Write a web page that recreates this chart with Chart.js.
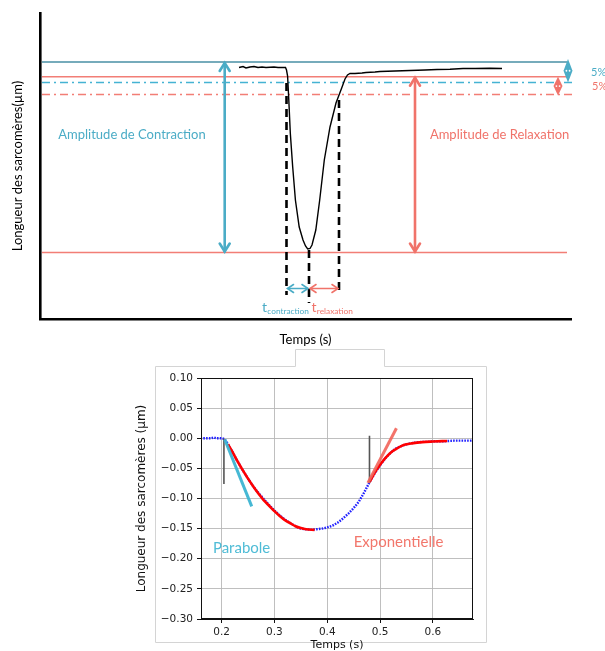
<!DOCTYPE html>
<html><head><meta charset="utf-8">
<script src="https://cdn.jsdelivr.net/npm/chart.js@4.4.1/dist/chart.umd.min.js"></script>
<style>
html,body{margin:0;padding:0;background:#fff;width:605px;height:651px;overflow:hidden;}
#top{position:absolute;left:0;top:0;width:605px;height:348px;}
#bot{position:absolute;left:0;top:345px;width:605px;height:306px;}
</style></head><body>
<div id="top"><canvas id="c1" width="605" height="348"></canvas></div>
<div id="bot"><canvas id="c2" width="605" height="306"></canvas></div>
<script>
// ===== Top schematic (arbitrary units: time a.u., length a.u.) =====
const traceTime   = [199,203,206,210,214,218,222,226,230,234,238,244,245.5,246.5,247.6,248.8,250.3,252.7,255.4,259.2,263,265.5,267.7,270,272,275.8,279.7,284.3,290,296,301.7,305,307.5,310,315,322,326,335,340,355,370,385,397,410,423,435,450,462];
const traceLength = [251.5,252.5,251,252,252.5,251.5,252,251.5,251.8,252,251.5,251.5,251.5,249,243,219,186,152,119,92,79,73,70,70.5,74,89,119,159,192,216,231,240,244,245.5,245.5,246,246.5,247,247.5,248,248.5,249,249.5,249.7,250.5,250.5,250.8,250.5];
const levelBaseline   = 257;    // teal solid
const levelRelaxed    = 242.3;  // salmon solid
const levelContr5     = 236.5;  // teal dash-dot (5%)
const levelRelax5     = 224.5;  // salmon dash-dot (5%)
const levelMinimum    = 66.5;   // salmon solid (bottom)
const levelStart = 2, levelEnd = 527, dashLevelEnd = 535;
const tStart = 246.5, tPeak = 269, tEnd = 299;
const tStartTop = 236, tPeakTop = 69, tEndTop = 219, tMarkerBottom = 24, tPeakBottom = 16;
const timeArrowLevel = 30.5;
const ampContrTime = 184.7, ampRelaxTime = 375;
const pctContrTime = 528, pctRelaxTime = 518;

// ===== Bottom plot (s, µm) =====
const timeS    = [0.160,0.170,0.180,0.185,0.190,0.200,0.205,0.210,0.220,0.230,0.240,0.250,0.260,0.270,0.280,0.290,0.300,0.310,0.320,0.330,0.340,0.350,0.360,0.370,0.380,0.390,0.400,0.410,0.420,0.430,0.440,0.450,0.460,0.470,0.480,0.490,0.500,0.510,0.520,0.530,0.540,0.550,0.560,0.570,0.580,0.590,0.600,0.620,0.640,0.660,0.676];
const lengthUm = [0.000,0.000,0.000,0.0015,0.000,0.000,-0.001,-0.007,-0.022,-0.038,-0.053,-0.067,-0.080,-0.091,-0.101,-0.111,-0.120,-0.128,-0.135,-0.141,-0.146,-0.150,-0.151,-0.152,-0.151,-0.150,-0.148,-0.145,-0.140,-0.133,-0.125,-0.116,-0.105,-0.090,-0.073,-0.058,-0.045,-0.033,-0.024,-0.017,-0.013,-0.010,-0.008,-0.007,-0.006,-0.006,-0.005,-0.005,-0.004,-0.004,-0.004];
const fitContrT = [0.212,0.220,0.230,0.240,0.250,0.260,0.270,0.280,0.290,0.300,0.310,0.320,0.330,0.340,0.350,0.360,0.376];
const fitContrL = [-0.010,-0.022,-0.038,-0.053,-0.067,-0.080,-0.092,-0.103,-0.112,-0.121,-0.129,-0.136,-0.141,-0.146,-0.149,-0.151,-0.152];
const fitRelaxT = [0.480,0.490,0.500,0.510,0.520,0.530,0.540,0.550,0.560,0.580,0.600,0.627];
const fitRelaxL = [-0.073,-0.057,-0.044,-0.033,-0.024,-0.018,-0.013,-0.010,-0.0085,-0.0065,-0.0055,-0.0045];
const parabolaT = [0.206,0.257], parabolaL = [-0.002,-0.113];
const expoT = [0.477,0.531], expoL = [-0.074,0.0165];
const markerStartT = [0.2044,0.2044], markerStartL = [-0.001,-0.076];
const markerRelaxT = [0.480,0.480], markerRelaxL = [0.004,-0.074];
const xTicks = [0.2,0.3,0.4,0.5,0.6];
const yTicks = [0.10,0.05,0.00,-0.05,-0.10,-0.15,-0.20,-0.25,-0.30];
const parabolaLabel = {text:'Parabole', t:0.1835, l:-0.183};
const expoLabel = {text:'Exponentielle', t:0.450, l:-0.173};

const TEAL='#4BACC6', TEAL_LINE='#76abbb', SAL='#F0736A', SAL_LINE='#F27E76', CYAN_DD='#45B3D3';
const pts = (xs, ys) => xs.map((v,i)=>({x:v, y:ys[i]}));
const TOPFONT = 'Lato';

function chevron(ctx, tipX, tipY, dx, dy, hw, hl){
  const bx = tipX - dx*hl, by = tipY - dy*hl;
  ctx.beginPath();
  ctx.moveTo(bx - dy*hw, by + dx*hw);
  ctx.lineTo(tipX, tipY);
  ctx.lineTo(bx + dy*hw, by - dx*hw);
  ctx.stroke();
}
function dblArrow(ctx, x1, y1, x2, y2, color, lw, hw, hl){
  ctx.save();
  ctx.strokeStyle=color; ctx.lineWidth=lw; ctx.lineCap='round'; ctx.lineJoin='miter';
  ctx.beginPath(); ctx.moveTo(x1,y1); ctx.lineTo(x2,y2); ctx.stroke();
  const len=Math.hypot(x2-x1,y2-y1), dx=(x2-x1)/len, dy=(y2-y1)/len;
  chevron(ctx,x2,y2,dx,dy,hw,hl);
  chevron(ctx,x1,y1,-dx,-dy,hw,hl);
  ctx.restore();
}
function diamond(ctx, x, yTop, yBot, color, hw){
  const mid=(yTop+yBot)/2;
  ctx.save();
  ctx.fillStyle=color;
  ctx.beginPath(); ctx.moveTo(x,yTop); ctx.lineTo(x+hw,mid); ctx.lineTo(x,yBot); ctx.lineTo(x-hw,mid); ctx.closePath(); ctx.fill();
  ctx.fillStyle='#fff';
  ctx.beginPath(); ctx.arc(x-1.6,mid,0.9,0,Math.PI*2); ctx.arc(x+1.6,mid,0.9,0,Math.PI*2); ctx.fill();
  ctx.restore();
}

const topDecor = {
  id:'topDecor',
  afterDatasetsDraw(chart){
    const ctx=chart.ctx, X=v=>chart.scales.x.getPixelForValue(v), Y=v=>chart.scales.y.getPixelForValue(v);
    dblArrow(ctx, X(ampContrTime), Y(levelBaseline)+1, X(ampContrTime), Y(levelMinimum)-1, TEAL, 2.6, 5, 8);
    dblArrow(ctx, X(ampRelaxTime), Y(levelRelaxed)+1, X(ampRelaxTime), Y(levelMinimum)-1, SAL, 2.6, 5, 8);
    dblArrow(ctx, X(tStart)+1, Y(timeArrowLevel), X(tPeak)-1, Y(timeArrowLevel), TEAL, 1.6, 4, 6);
    dblArrow(ctx, X(tPeak)+1, Y(timeArrowLevel), X(tEnd)-1, Y(timeArrowLevel), SAL, 1.6, 4, 6);
    diamond(ctx, X(pctContrTime), Y(levelBaseline)-3, Y(levelContr5), TEAL, 4.5);
    diamond(ctx, X(pctRelaxTime), Y(levelRelaxed), Y(levelRelax5)+1, SAL, 4.5);
    ctx.save();
    ctx.textBaseline='middle'; ctx.textAlign='center';
    ctx.font='13px '+TOPFONT;
    ctx.fillStyle=TEAL; ctx.fillText('Amplitude de Contraction', X(92), Y(184));
    ctx.fillStyle=SAL; ctx.fillText('Amplitude de Relaxation', X(459.6), Y(184));
    ctx.textAlign='left';
    ctx.font='11px '+TOPFONT;
    ctx.fillStyle=TEAL; ctx.fillText('5%', X(551), Y(247));
    ctx.fillStyle=SAL; ctx.fillText('5%', X(552), Y(233));
    ctx.textBaseline='alphabetic';
    ctx.font='14px '+TOPFONT; ctx.fillStyle=TEAL;
    ctx.fillText('t', X(222), Y(7.5));
    let w=ctx.measureText('t').width;
    ctx.font='8.3px '+TOPFONT; ctx.fillText('contraction', X(222)+w+0.3, Y(5.0));
    ctx.font='14px '+TOPFONT; ctx.fillStyle=SAL;
    ctx.fillText('t', X(271.5), Y(7.5));
    w=ctx.measureText('t').width;
    ctx.font='8.3px '+TOPFONT; ctx.fillText('relaxation', X(271.5)+w+0.3, Y(5.0));
    ctx.restore();
  }
};

const hLine = (y, x0, x1, color, width, dash) => ({
  data: pts([x0,x1],[y,y]), borderColor: color, borderWidth: width, borderDash: dash||[],
  showLine:true, pointRadius:0, clip:false, order:5
});
const vDash = (x, y0, y1) => ({
  data: pts([x,x],[y0,y1]), borderColor:'#000', borderWidth:2.6, borderDash:[8,5],
  showLine:true, pointRadius:0, clip:false, order:2
});

new Chart(document.getElementById('c1'), {
  type:'scatter',
  data:{datasets:[
    {data: pts(traceTime, traceLength), borderColor:'#000', borderWidth:1.4, showLine:true, pointRadius:0, order:1, tension:0},
    hLine(levelBaseline, levelStart, levelEnd, TEAL_LINE, 2.2),
    hLine(levelRelaxed, levelStart, levelEnd, SAL_LINE, 1.6),
    hLine(levelContr5, levelStart, dashLevelEnd, CYAN_DD, 1.5, [8,4,2,4]),
    hLine(levelRelax5, levelStart, dashLevelEnd, SAL_LINE, 1.5, [8,4,2,4]),
    hLine(levelMinimum, levelStart, levelEnd, SAL_LINE, 1.6),
    vDash(tStart, tStartTop, tMarkerBottom),
    vDash(tPeak, tPeakTop, tPeakBottom),
    vDash(tEnd, tEndTop, tMarkerBottom)
  ]},
  options:{
    responsive:false, animation:false, devicePixelRatio:1,
    layout:{padding:{left:0,right:34,top:13,bottom:0}},
    plugins:{legend:{display:false}, tooltip:{enabled:false}},
    scales:{
      x:{type:'linear', min:0, max:531, ticks:{display:false}, grid:{display:false, drawTicks:false},
         border:{display:true, color:'#000', width:2.6},
         title:{display:true, text:'Temps (s)', color:'#000', font:{family:TOPFONT, size:13}, padding:{top:0,bottom:0}},
         afterFit(s){ s.height = 29; }},
      y:{type:'linear', min:0, max:306, ticks:{display:false}, grid:{display:false, drawTicks:false},
         border:{display:true, color:'#000', width:2.6},
         title:{display:true, text:'Longueur des sarcomères(µm)', color:'#000', font:{family:TOPFONT, size:13}, padding:{top:10,bottom:0}},
         afterFit(s){ s.width = 40; }}
    }
  },
  plugins:[topDecor]
});

// ===== Bottom chart =====
const botDecor = {
  id:'botDecor',
  beforeDraw(chart){
    const ctx=chart.ctx, a=chart.chartArea;
    ctx.save();
    ctx.strokeStyle='#d4d4d4'; ctx.lineWidth=1;
    const L=a.left-45.5, R=a.right+13.5, T=a.top-11.5, B=a.bottom+23.5, n1=a.left+94.5, n2=a.left+183.5, nT=a.top-28.5;
    ctx.beginPath();
    ctx.moveTo(L,B); ctx.lineTo(L,T); ctx.lineTo(n1,T); ctx.lineTo(n1,nT); ctx.lineTo(n2,nT); ctx.lineTo(n2,T); ctx.lineTo(R,T); ctx.lineTo(R,B); ctx.closePath();
    ctx.stroke();
    ctx.restore();
  },
  afterDatasetsDraw(chart){
    const ctx=chart.ctx, a=chart.chartArea, X=v=>chart.scales.x.getPixelForValue(v), Y=v=>chart.scales.y.getPixelForValue(v);
    ctx.save();
    ctx.strokeStyle='#111'; ctx.lineWidth=1;
    ctx.strokeRect(Math.round(a.left)+0.5, Math.round(a.top)+0.5, Math.round(a.right-a.left)-1, Math.round(a.bottom-a.top)-1);
    ctx.font='15px '+TOPFONT; ctx.textBaseline='middle'; ctx.textAlign='left';
    ctx.fillStyle='#4FBCD6'; ctx.fillText(parabolaLabel.text, X(parabolaLabel.t), Y(parabolaLabel.l));
    ctx.fillStyle='#F2776C'; ctx.fillText(expoLabel.text, X(expoLabel.t), Y(expoLabel.l));
    ctx.restore();
  }
};
const fmtY = v => (Math.abs(v)<1e-9 ? '0.00' : v.toFixed(2).replace('-', '\u2212'));
new Chart(document.getElementById('c2'), {
  type:'scatter',
  data:{datasets:[
    {data: pts(timeS, lengthUm), borderColor:'#2020ff', borderWidth:2.4, borderDash:[1.6,1.2], showLine:true, pointRadius:0, order:4},
    {data: pts(fitContrT, fitContrL), borderColor:'#ff0000', borderWidth:2.6, showLine:true, pointRadius:0, order:3, cubicInterpolationMode:'monotone'},
    {data: pts(fitRelaxT, fitRelaxL), borderColor:'#ff0000', borderWidth:2.6, showLine:true, pointRadius:0, order:3, cubicInterpolationMode:'monotone'},
    {data: pts(markerStartT, markerStartL), borderColor:'#555', borderWidth:1.6, showLine:true, pointRadius:0, order:2},
    {data: pts(markerRelaxT, markerRelaxL), borderColor:'#555', borderWidth:1.6, showLine:true, pointRadius:0, order:2},
    {data: pts(parabolaT, parabolaL), borderColor:'rgba(60,180,210,0.95)', borderWidth:3, showLine:true, pointRadius:0, order:1},
    {data: pts(expoT, expoL), borderColor:'rgba(242,100,90,0.9)', borderWidth:3, showLine:true, pointRadius:0, order:1}
  ]},
  options:{
    responsive:false, animation:false, devicePixelRatio:1,
    layout:{padding:{left:0,right:132,top:33,bottom:0}},
    plugins:{legend:{display:false}, tooltip:{enabled:false}},
    scales:{
      x:{type:'linear', min:0.161, max:0.676,
         afterBuildTicks(s){ s.ticks = xTicks.map(v=>({value:v})); },
         ticks:{color:'#222', font:{family:'DejaVu Sans', size:10.5}, padding:3, callback:v=>v.toFixed(1), maxRotation:0},
         grid:{color:'#b8b8b8', lineWidth:0.9, tickColor:'#111', tickLength:4, tickWidth:1},
         border:{display:true, color:'#111', width:1},
         title:{display:true, text:'Temps (s)', color:'#111', font:{family:'DejaVu Sans', size:11}, padding:{top:0,bottom:-1}},
         afterFit(s){ s.height = 32; }},
      y:{type:'linear', min:-0.30, max:0.10,
         afterBuildTicks(s){ s.ticks = yTicks.map(v=>({value:v})); },
         ticks:{color:'#222', font:{family:'DejaVu Sans', size:10.5}, padding:4, callback:fmtY},
         grid:{color:'#b8b8b8', lineWidth:0.9, tickColor:'#111', tickLength:4, tickWidth:1},
         border:{display:true, color:'#111', width:1},
         title:{display:true, text:'Longueur des sarcomères (µm)', color:'#111', font:{family:'DejaVu Sans', size:12}, padding:{top:135,bottom:0}},
         afterFit(s){ s.width = 201; }}
    }
  },
  plugins:[botDecor]
});
</script>
</body></html>
